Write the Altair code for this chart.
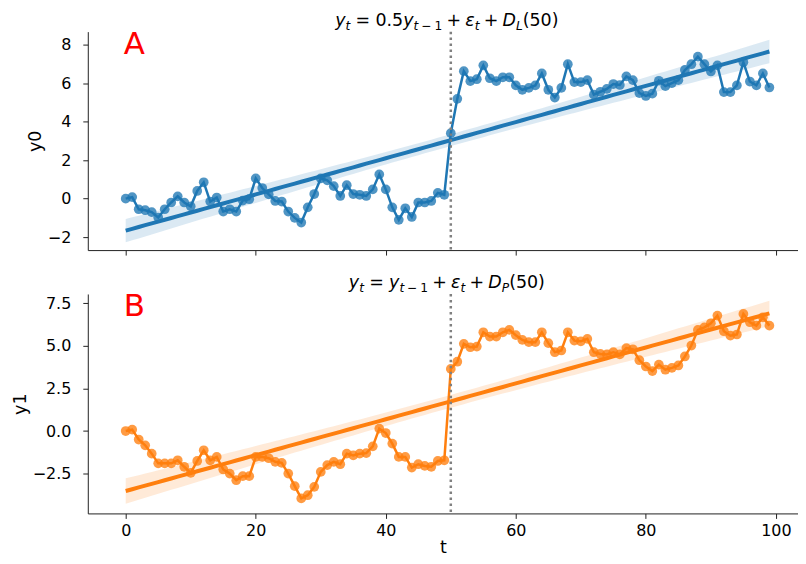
import altair as alt
import numpy as np
import pandas as pd

t = list(range(100))

y0 = [0.0, 0.08, -0.55, -0.6, -0.7, -0.98, -0.55, -0.2, 0.12, -0.2,
      -0.4, 0.4, 0.85, -0.15, 0.06, -0.67, -0.55, -0.67, -0.1, -0.03,
      1.05, 0.55, 0.22, -0.12, -0.15, -0.67, -1.0, -1.24, -0.45, 0.24,
      1.05, 0.95, 0.65, 0.14, 0.7, 0.24, 0.2, 0.14, 0.48, 1.26,
      0.48, -0.45, -1.1, -0.5, -0.95, -0.2, -0.2, -0.12, 0.3, 0.2,
      3.4, 5.18, 6.62, 6.1, 6.2, 6.92, 6.25, 6.1, 6.3, 6.3,
      5.88, 5.65, 5.75, 5.88, 6.5, 5.65, 5.25, 5.75, 6.98, 6.05,
      6.05, 6.15, 5.4, 5.55, 5.7, 5.95, 5.9, 6.35, 6.15, 5.48,
      5.33, 5.45, 6.12, 5.84, 6.0, 6.15, 6.68, 6.98, 7.37, 6.98,
      6.6, 6.92, 5.53, 5.53, 5.88, 7.08, 6.08, 5.88, 6.5, 5.77]

y1 = [0.0, 0.08, -0.5, -0.84, -1.33, -1.9, -1.9, -1.9, -1.72, -2.1,
      -2.46, -1.76, -1.13, -1.72, -1.52, -2.26, -2.5, -2.89, -2.65, -2.65,
      -1.52, -1.52, -1.6, -1.81, -1.87, -2.5, -3.24, -3.96, -3.77, -3.28,
      -2.4, -2.0, -1.81, -1.95, -1.33, -1.43, -1.33, -1.3, -0.9, 0.14,
      -0.12, -0.74, -1.52, -1.52, -2.15, -1.95, -2.05, -2.1, -1.76, -1.72,
      3.65, 4.07, 5.12, 4.92, 4.96, 5.8, 5.55, 5.55, 5.8, 5.94,
      5.63, 5.35, 5.22, 5.22, 5.8, 5.16, 4.63, 4.73, 5.8, 5.31,
      5.27, 5.41, 4.63, 4.53, 4.5, 4.63, 4.5, 4.87, 4.8, 4.16,
      3.79, 3.52, 3.9, 3.6, 3.71, 3.85, 4.38, 5.02, 5.94, 6.09,
      6.33, 6.78, 5.86, 5.6, 5.67, 6.88, 6.39, 6.19, 6.68, 6.19]

# title pieces: (text, italic, subscript, operator spacing)
title_pieces = [
    [("y", 1, 0, ""), ("t", 1, 1, ""), ("=", 0, 0, "rel"), ("0.5", 0, 0, ""),
     ("y", 1, 0, ""), ("t", 1, 1, ""), ("\u2212", 0, 1, "bin"), ("1", 0, 1, ""),
     ("+", 0, 0, "bin"), ("\u03b5", 1, 0, ""), ("t", 1, 1, ""), ("+", 0, 0, "bin"),
     ("D", 1, 0, ""), ("L", 1, 1, ""), ("(50)", 0, 0, "")],
    [("y", 1, 0, ""), ("t", 1, 1, ""), ("=", 0, 0, "rel"),
     ("y", 1, 0, ""), ("t", 1, 1, ""), ("\u2212", 0, 1, "bin"), ("1", 0, 1, ""),
     ("+", 0, 0, "bin"), ("\u03b5", 1, 0, ""), ("t", 1, 1, ""), ("+", 0, 0, "bin"),
     ("D", 1, 0, ""), ("P", 1, 1, ""), ("(50)", 0, 0, "")],
]
letters = ["A", "B"]
ynames = ["y0", "y1"]
colors = ["#1f77b4", "#ff7f0e"]
break_t = [50]
x_ticks = [0, 20, 40, 60, 80, 100]
y_ticks = [[-2, 0, 2, 4, 6, 8], [-2.5, 0.0, 2.5, 5.0, 7.5]]
y_formats = ["d", ".1f"]
y_domains = [[-2.67, 8.67], [-4.84, 8.05]]
x_domain = [-5.83, 103.4]

FONT = "DejaVu Sans"
W = 712
H = [219, 220]
TSIZE = 17.5
EM = {"y": 0.592, "t": 0.392, "=": 0.838, "0": 0.636, "5": 0.636, "1": 0.636,
      ".": 0.318, "\u2212": 0.838, "+": 0.838, "\u03b5": 0.541, "D": 0.770,
      "L": 0.557, "P": 0.603, "(": 0.390, ")": 0.390}
GAP = {"": 0.0, "rel": 0.30, "bin": 0.24}


def fit_band(y):
    x = np.array(t, dtype=float)
    yv = np.array(y, dtype=float)
    n = len(x)
    b, a = np.polyfit(x, yv, 1)
    yhat = a + b * x
    s = np.sqrt(np.sum((yv - yhat) ** 2) / (n - 2))
    se = s * np.sqrt(1.0 / n + (x - x.mean()) ** 2 / np.sum((x - x.mean()) ** 2))
    ci = 1.984 * se
    return pd.DataFrame({"t": x, "fit": yhat, "lo": yhat - ci, "hi": yhat + ci})


def title_layers(pieces, center_x, base_y):
    laid = []
    for text, ital, sub, op in pieces:
        size = TSIZE * (0.7 if sub else 1.0)
        gap = GAP[op] * size
        w = sum(EM[c] for c in text) * size
        laid.append((text, ital, sub, size, gap, w))
    total = sum(w + 2 * g for *_, g, w in laid)
    x = center_x - total / 2
    layers = []
    for text, ital, sub, size, gap, w in laid:
        x += gap
        layers.append(
            alt.Chart(pd.DataFrame({"s": [text]})).mark_text(
                font=FONT, fontSize=size, fontStyle="italic" if ital else "normal",
                align="left", baseline="alphabetic", color="black",
            ).encode(text="s:N", x=alt.value(round(x, 1)),
                     y=alt.value(base_y + (4 if sub else 0)))
        )
        x += w + gap
    return layers


def panel(i, yvals, bottom):
    color = colors[i]
    df = pd.DataFrame({"t": t, "y": yvals})
    band = fit_band(yvals)
    xs = alt.Scale(domain=x_domain, nice=False, zero=False)
    ys = alt.Scale(domain=y_domains[i], nice=False, zero=False)
    if bottom:
        xaxis = alt.Axis(values=x_ticks, title="t", format="d", grid=False,
                         titlePadding=0, labelPadding=4)
    else:
        xaxis = alt.Axis(values=x_ticks, title=None, labels=False, grid=False)
    yaxis = alt.Axis(values=y_ticks[i], format=y_formats[i], title=ynames[i],
                     grid=False, titlePadding=3, labelPadding=12)

    area = alt.Chart(band).mark_area(color=color, opacity=0.16).encode(
        x=alt.X("t:Q", scale=xs, axis=xaxis),
        y=alt.Y("lo:Q", scale=ys, axis=yaxis),
        y2="hi:Q",
    )
    reg = alt.Chart(band).mark_line(color=color, strokeWidth=4).encode(
        x="t:Q", y="fit:Q"
    )
    line = alt.Chart(df).mark_line(color=color, strokeWidth=2.5).encode(
        x="t:Q", y="y:Q"
    )
    pts = alt.Chart(df).mark_circle(color=color, size=95, opacity=0.78).encode(
        x="t:Q", y="y:Q"
    )
    vline = alt.Chart(pd.DataFrame({"b": break_t})).mark_rule(
        color="gray", strokeWidth=2.5, strokeDash=[2.5, 3.5]
    ).encode(x="b:Q")
    letter = alt.Chart(pd.DataFrame({"l": [letters[i]]})).mark_text(
        color="red", fontSize=31, font=FONT, align="left", baseline="alphabetic"
    ).encode(text="l:N", x=alt.value(36), y=alt.value(round(0.1 * H[i])))

    tl = title_layers(title_pieces[i], 360, -6)
    return alt.layer(area, reg, line, pts, vline, letter, *tl).properties(
        width=W, height=H[i]
    )


top = panel(0, y0, False)
bot = panel(1, y1, True)

chart = alt.vconcat(top, bot, spacing=44, bounds="flush").properties(
    padding={"left": 3, "top": 3, "right": 0, "bottom": 0}
).configure_view(stroke=None).configure_axis(
    labelFont=FONT, titleFont=FONT, labelFontSize=16, titleFontSize=17.5,
    labelColor="black", titleColor="black", titleFontWeight="normal",
    domainColor="#222", tickColor="#222", tickSize=5,
)

chart.save("out.html", embed_options={"renderer": "svg", "actions": False})
